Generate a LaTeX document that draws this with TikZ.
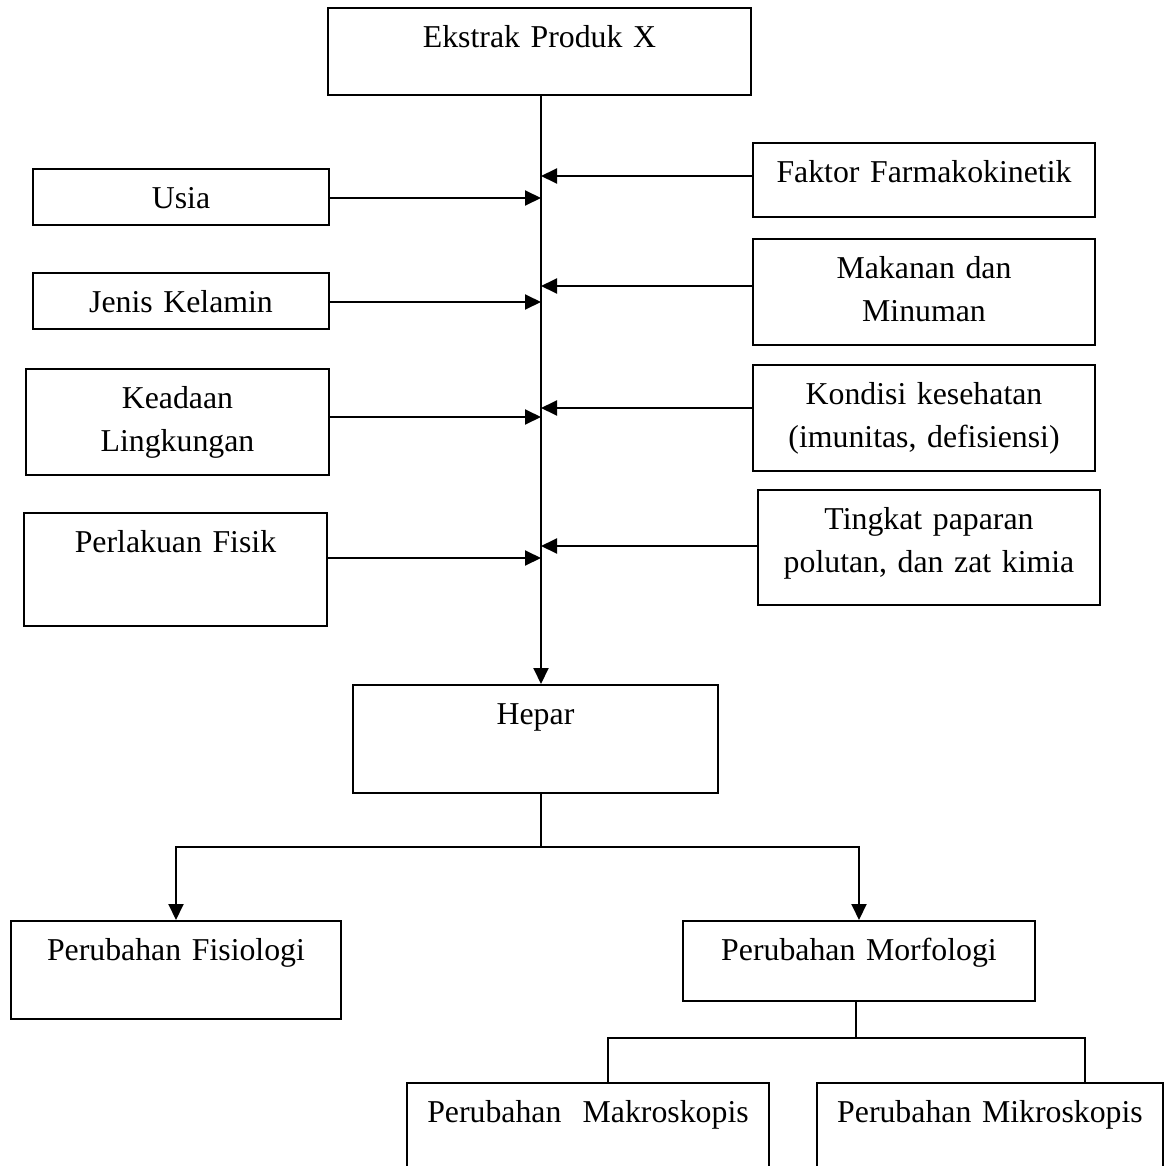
\documentclass[tikz,border=0pt]{standalone}
\usepackage{fontspec}
\setmainfont{Liberation Serif}
\usetikzlibrary{arrows.meta,calc,positioning}

\begin{document}
\begin{tikzpicture}[
  x=0.02cm, y=-0.02cm,
  font=\fontsize{18.1}{24}\selectfont,
  box/.style={draw, line width=1.1pt, anchor=north, inner sep=0pt, align=center, text height=0.8cm},
  flow/.style={line width=1.1pt, -{Triangle[length=0.32cm, width=0.3cm]}},
  link/.style={line width=0.7pt}
]
  \useasboundingbox (0,0) rectangle (1173,1166);
  \node[box, text width=8.46cm, text depth=0.94cm] (ekstrak) at (539.5,7) {Ekstrak Produk X};
  % left column
  \node[box, text width=5.92cm, text depth=0.32cm] (usia)    at (181,168)   {Usia};
  \node[box, text width=5.92cm, text depth=0.32cm] (jenis)   at (181,272)   {Jenis Kelamin};
  \node[box, text width=6.06cm, text depth=1.32cm] (keadaan) at (177.5,368) {Keadaan\\Lingkungan};
  \node[box, text width=6.06cm, text depth=1.46cm] (fisik)   at (175.5,512) {Perlakuan Fisik};
  % right column
  \node[box, text width=6.84cm, text depth=0.68cm] (faktor)  at (924,142) {Faktor Farmakokinetik};
  \node[box, text width=6.84cm, text depth=1.32cm] (makanan) at (924,238) {Makanan dan\\Minuman};
  \node[box, text width=6.84cm, text depth=1.32cm] (kondisi) at (924,364) {Kondisi kesehatan\\(imunitas, defisiensi)};
  \node[box, text width=6.84cm, text depth=1.5cm]  (tingkat) at (929,489) {Tingkat paparan\\polutan, dan zat kimia};
  % lower part
  \node[box, text width=7.3cm,  text depth=1.36cm] (hepar)     at (535.5,684) {Hepar};
  \node[box, text width=6.6cm,  text depth=1.16cm] (fisiologi) at (176,920)   {Perubahan Fisiologi};
  \node[box, text width=7.04cm, text depth=0.8cm]  (morfologi) at (859,920)   {Perubahan Morfologi};
  \node[box, text width=7.24cm, text depth=1.4cm]  (makro)     at (588,1082)  {Perubahan~~Makroskopis};
  \node[box, text width=6.92cm, text depth=1.4cm]  (mikro)     at (990,1082)  {Perubahan Mikroskopis};

  \coordinate (spine) at (541,0);
  \coordinate (bus) at (541,847);
  \coordinate (sub) at (856,1038);
  \draw[flow] (ekstrak.south -| spine) -- (hepar.north -| spine);
  \foreach \src/\yy in {usia/198, jenis/302, keadaan/417, fisik/558}{
    \coordinate (\src-in) at (541,\yy);
    \draw[flow] (\src.east |- \src-in) -- (\src-in);
  }
  \foreach \src/\yy in {faktor/176, makanan/286, kondisi/408, tingkat/546}{
    \coordinate (\src-in) at (541,\yy);
    \draw[flow] (\src.west |- \src-in) -- (\src-in);
  }
  \draw[link] (hepar.south -| bus) -- (bus);
  \draw[flow] (bus) -| (fisiologi.north);
  \draw[flow] (bus) -| (morfologi.north);
  \draw[link] (morfologi.south -| sub) -- (sub);
  \draw[link] ($(makro.north west)+(202,0)$) |- (sub) -| ($(mikro.north west)+(269,0)$);
\end{tikzpicture}
\end{document}
